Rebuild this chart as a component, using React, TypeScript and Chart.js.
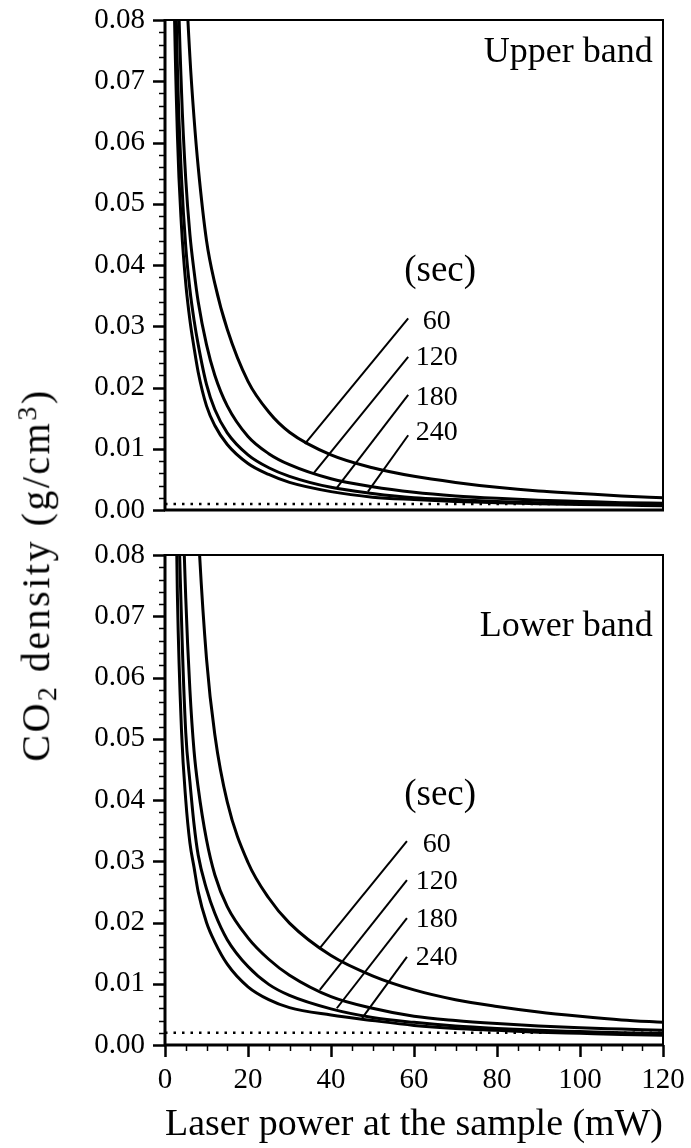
import React, { useEffect, useRef } from "react";
import { Chart, registerables } from "chart.js";

Chart.register(...registerables);

// ---------- data ----------
const POWER = [1, 1.5, 2, 3, 4, 5, 6, 7, 8, 10, 12, 15, 20, 25, 30, 40, 50, 60, 70, 80, 90, 100, 110, 120];

const UPPER_60 = [0.5, 0.33, 0.24, 0.155, 0.112, 0.088, 0.074, 0.064, 0.056, 0.044, 0.037, 0.0295, 0.021, 0.016, 0.0127, 0.009, 0.0069, 0.0055, 0.0045, 0.0037, 0.0031, 0.0027, 0.0023, 0.002];
const UPPER_120 = [0.31, 0.2, 0.145, 0.092, 0.068, 0.054, 0.045, 0.039, 0.034, 0.027, 0.022, 0.017, 0.012, 0.0092, 0.0074, 0.0051, 0.0038, 0.0029, 0.0023, 0.0019, 0.0016, 0.0014, 0.0012, 0.0011];
const UPPER_180 = [0.24, 0.155, 0.112, 0.072, 0.054, 0.043, 0.036, 0.031, 0.027, 0.0205, 0.0164, 0.0126, 0.009, 0.0069, 0.0055, 0.0037, 0.0027, 0.002, 0.0017, 0.0014, 0.0012, 0.0011, 0.001, 0.0009];
const UPPER_240 = [0.2, 0.13, 0.093, 0.061, 0.046, 0.037, 0.031, 0.0265, 0.0225, 0.017, 0.0138, 0.0107, 0.0076, 0.0058, 0.0045, 0.003, 0.0021, 0.0017, 0.0014, 0.0012, 0.001, 0.0009, 0.0008, 0.0007];

const LOWER_60 = [1.53, 0.87, 0.58, 0.33, 0.22, 0.161, 0.125, 0.101, 0.0844, 0.0631, 0.0507, 0.0397, 0.0298, 0.024, 0.0199, 0.0146, 0.0113, 0.009, 0.0074, 0.0063, 0.0054, 0.0047, 0.0041, 0.0037];
const LOWER_120 = [0.46, 0.3, 0.215, 0.134, 0.096, 0.073, 0.058, 0.048, 0.042, 0.0335, 0.0278, 0.0226, 0.0175, 0.014, 0.0114, 0.0079, 0.006, 0.0047, 0.004, 0.0035, 0.0031, 0.0028, 0.0026, 0.0024];
const LOWER_180 = [0.34, 0.22, 0.155, 0.097, 0.069, 0.051, 0.043, 0.036, 0.031, 0.0255, 0.0215, 0.0172, 0.0128, 0.0099, 0.0081, 0.0059, 0.0045, 0.0037, 0.0031, 0.0027, 0.0024, 0.0022, 0.002, 0.0019];
const LOWER_240 = [0.26, 0.17, 0.12, 0.073, 0.051, 0.04, 0.033, 0.029, 0.025, 0.02, 0.0168, 0.0132, 0.0095, 0.0074, 0.0061, 0.0049, 0.004, 0.0032, 0.0027, 0.0024, 0.0021, 0.0019, 0.0017, 0.0016];

const TIMES = ["60", "120", "180", "240"];
const X_TICKS = [0, 20, 40, 60, 80, 100, 120];
const Y_TICKS = [0, 0.01, 0.02, 0.03, 0.04, 0.05, 0.06, 0.07, 0.08];
const DETECTION_UPPER = 0.001;
const DETECTION_LOWER = 0.002;

// leader lines [x1, y1, x2, y2] in data units
const LEADERS_UPPER = [
  [58.6, 0.0313, 33.7, 0.0108],
  [58.6, 0.025, 35.7, 0.0059],
  [58.6, 0.0188, 41.4, 0.0036],
  [58.6, 0.0122, 48.9, 0.003],
];
const LEADERS_LOWER = [
  [58.3, 0.0333, 37.3, 0.0158],
  [58.3, 0.0269, 37.3, 0.009],
  [58.3, 0.0207, 41.4, 0.006],
  [58.3, 0.0144, 47.5, 0.0044],
];
const LABEL_Y_UPPER = [0.0307, 0.0248, 0.0184, 0.0126];
const LABEL_Y_LOWER = [0.0327, 0.0266, 0.0204, 0.0142];

const FONT = '"Liberation Serif", "Times New Roman", serif';

const toPts = (ys: number[]) => POWER.map((x, i) => ({ x, y: ys[i] }));

function curve(ys: number[]) {
  return {
    data: toPts(ys),
    showLine: true,
    borderColor: "#000",
    borderWidth: 3,
    pointRadius: 0,
    cubicInterpolationMode: "monotone" as const,
    fill: false,
  };
}
function seg(x1: number, y1: number, x2: number, y2: number, w = 2, dash: number[] = []) {
  return {
    data: [
      { x: x1, y: y1 },
      { x: x2, y: y2 },
    ],
    showLine: true,
    borderColor: "#000",
    borderWidth: w,
    borderDash: dash,
    pointRadius: 0,
    fill: false,
  };
}

const framePlugin = {
  id: "frame",
  afterDraw(chart: any, _a: any, opts: any) {
    const { ctx, chartArea } = chart;
    const { left, right, top, bottom } = chartArea;
    const ys = chart.scales.y;
    const xs = chart.scales.x;
    ctx.save();
    ctx.strokeStyle = "#000";
    ctx.lineCap = "butt";
    ctx.lineWidth = 2;
    ctx.beginPath();
    ctx.moveTo(left, top);
    ctx.lineTo(right, top);
    ctx.lineTo(right, bottom);
    ctx.stroke();
    ctx.lineWidth = 3;
    ctx.beginPath();
    ctx.moveTo(left - 1, bottom);
    ctx.lineTo(right + 1, bottom);
    ctx.moveTo(left, top - 1);
    ctx.lineTo(left, bottom + 1);
    ctx.stroke();
    for (let i = 0; i <= 40; i++) {
      const v = i * 0.002;
      const py = Math.round(ys.getPixelForValue(v)) + 0.5;
      const major = i % 5 === 0;
      ctx.lineWidth = major ? 2.5 : 1.5;
      ctx.beginPath();
      ctx.moveTo(left, py);
      ctx.lineTo(left - (major ? 12 : 6), py);
      ctx.stroke();
    }
    if (opts.xTicks) {
      for (let i = 0; i <= 24; i++) {
        const v = i * 5;
        const px = Math.round(xs.getPixelForValue(v)) + 0.5;
        const major = i % 4 === 0;
        ctx.lineWidth = major ? 2.5 : 1.5;
        ctx.beginPath();
        ctx.moveTo(px, bottom);
        ctx.lineTo(px, bottom + (major ? 12 : 6));
        ctx.stroke();
      }
    }
    ctx.restore();
  },
};

const textPlugin = {
  id: "annot",
  afterDatasetsDraw(chart: any, _a: any, opts: any) {
    const { ctx } = chart;
    const xs = chart.scales.x;
    const ys = chart.scales.y;
    ctx.save();
    ctx.fillStyle = "#000";
    for (const t of opts.items || []) {
      ctx.font = `${t.size}px ${FONT}`;
      ctx.textAlign = t.align || "center";
      ctx.textBaseline = t.baseline || "middle";
      ctx.fillText(t.text, xs.getPixelForValue(t.x), ys.getPixelForValue(t.y));
    }
    ctx.restore();
  },
};

function buildConfig(
  series: number[][],
  leaders: number[][],
  labelYs: number[],
  secY: number,
  detection: number,
  band: string,
  bandY: number,
  bottom: boolean
) {
  const datasets: any[] = [
    ...series.map((s) => curve(s)),
    ...leaders.map((l) => seg(l[0], l[1], l[2], l[3], 2)),
    seg(0, detection, 120, detection, 2.5, [2.5, 6]),
  ];
  const items: any[] = [
    { text: band, x: 117.5, y: bandY, size: 36, align: "right", baseline: "alphabetic" },
    { text: "(sec)", x: 66.3, y: secY, size: 37 },
    ...TIMES.map((t, i) => ({ text: t, x: 65.5, y: labelYs[i], size: 28 })),
  ];
  return {
    type: "scatter" as const,
    data: { datasets },
    plugins: [framePlugin, textPlugin],
    options: {
      animation: false as const,
      responsive: false,
      devicePixelRatio: 1,
      events: [],
      layout: { padding: { left: 0, right: 28, top: bottom ? 25 : 20, bottom: bottom ? 0 : 20 } },
      plugins: {
        legend: { display: false },
        tooltip: { enabled: false },
        frame: { xTicks: bottom },
        annot: { items },
      },
      scales: {
        x: {
          type: "linear" as const,
          min: 0,
          max: 120,
          display: bottom,
          grid: { display: false, drawTicks: false, tickLength: 0 },
          border: { display: false },
          afterBuildTicks: (s: any) => {
            s.ticks = X_TICKS.map((v) => ({ value: v }));
          },
          ticks: {
            autoSkip: false,
            maxRotation: 0,
            padding: 18,
            color: "#000",
            font: { family: FONT, size: 29 },
          },
          title: {
            display: bottom,
            text: "Laser power at the sample (mW)",
            color: "#000",
            font: { family: FONT, size: 38 },
            padding: { top: 0, bottom: 0 },
          },
          afterFit: (s: any) => {
            s.height = bottom ? 103 : 0;
            s.paddingLeft = 0;
            s.paddingRight = 0;
          },
        },
        y: {
          type: "linear" as const,
          min: 0,
          max: 0.08,
          grid: { display: false, drawTicks: false, tickLength: 0 },
          border: { display: false },
          afterBuildTicks: (s: any) => {
            s.ticks = Y_TICKS.map((v) => ({ value: v }));
          },
          ticks: {
            padding: 20,
            color: "#000",
            font: { family: FONT, size: 29 },
            callback: (v: any) => Number(v).toFixed(2),
          },
          afterFit: (s: any) => {
            s.width = 165;
            s.paddingTop = 0;
            s.paddingBottom = 0;
          },
        },
      },
    },
  };
}

function Panel(props: { cfg: any; top: number; height: number }) {
  const ref = useRef<HTMLCanvasElement | null>(null);
  useEffect(() => {
    if (!ref.current) return;
    const chart = new Chart(ref.current, props.cfg);
    return () => chart.destroy();
  }, []);
  return (
    <canvas
      ref={ref}
      width={691}
      height={props.height}
      style={{ position: "absolute", left: 0, top: props.top, width: 691, height: props.height }}
    />
  );
}

export default function App() {
  const upperCfg = buildConfig(
    [UPPER_60, UPPER_120, UPPER_180, UPPER_240],
    LEADERS_UPPER,
    LABEL_Y_UPPER,
    0.0389,
    DETECTION_UPPER,
    "Upper band",
    0.0731,
    false
  );
  const lowerCfg = buildConfig(
    [LOWER_60, LOWER_120, LOWER_180, LOWER_240],
    LEADERS_LOWER,
    LABEL_Y_LOWER,
    0.0408,
    DETECTION_LOWER,
    "Lower band",
    0.0668,
    true
  );
  return (
    <div style={{ position: "absolute", left: 0, top: 0, width: 691, height: 1148, background: "#fff", overflow: "hidden" }}>
      <Panel cfg={upperCfg} top={0} height={530} />
      <Panel cfg={lowerCfg} top={530} height={618} />
      <div
        style={{
          position: "absolute",
          left: 37,
          top: 575,
          transform: "translate(-50%, -50%) rotate(-90deg)",
          whiteSpace: "nowrap",
          fontFamily: FONT,
          fontSize: 40,
          letterSpacing: 2.5,
          lineHeight: 1,
          color: "#000",
        }}
      >
        CO<sub style={{ fontSize: "0.7em", verticalAlign: "-0.25em" }}>2</sub> density (g/cm
        <sup style={{ fontSize: "0.7em", verticalAlign: "0.45em" }}>3</sup>)
      </div>
    </div>
  );
}
